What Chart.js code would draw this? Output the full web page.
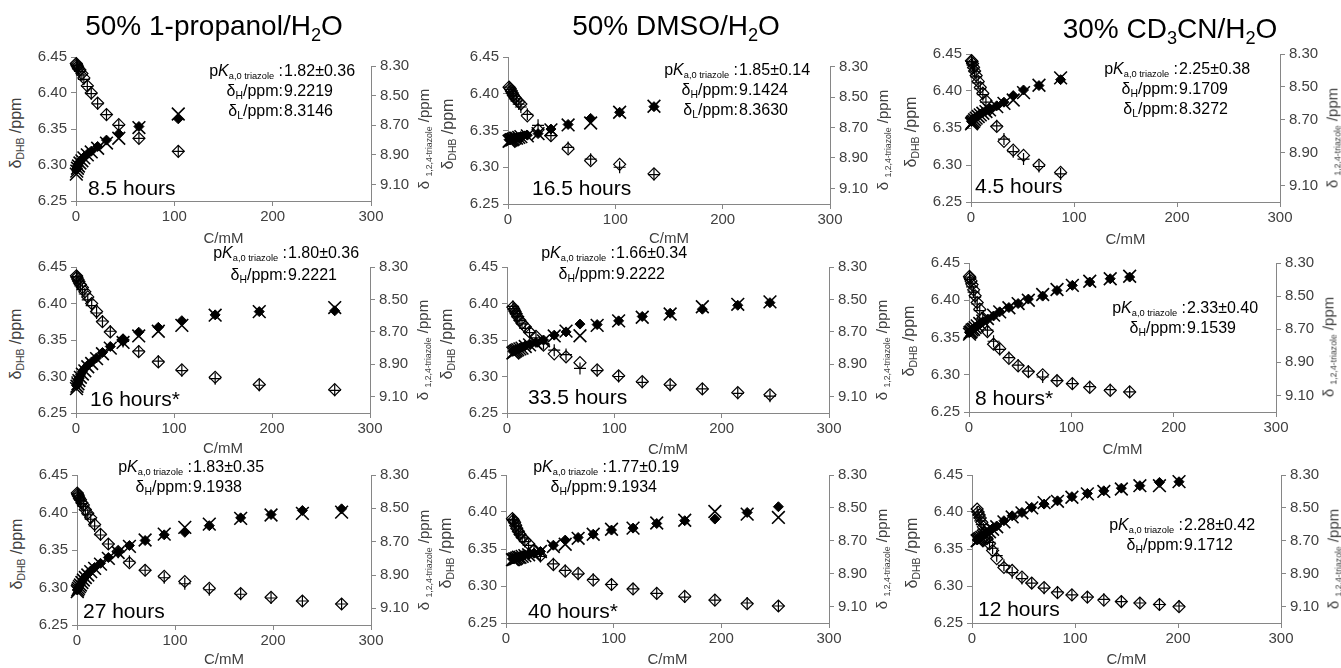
<!DOCTYPE html>
<html><head><meta charset="utf-8">
<script src="https://cdn.jsdelivr.net/npm/chart.js@4.4.0/dist/chart.umd.min.js"></script>
<style>
html,body{margin:0;padding:0;background:#fff;}
#page{position:relative;width:1341px;height:668px;overflow:hidden;font-family:'Liberation Sans',Arial,sans-serif;}
canvas{position:absolute;}
.t{position:absolute;white-space:nowrap;color:#000;line-height:1;}
.t sub{font-size:65%;vertical-align:baseline;position:relative;top:0.32em;line-height:0;}
.t sub.sm{font-size:58%;}
.ax{color:#404040;}
</style></head><body><div id="page"></div>
<script>
// ---------------- DATA ----------------
const columnTitles = ['50% 1-propanol/H<sub>2</sub>O', '50% DMSO/H<sub>2</sub>O', '30% CD<sub>3</sub>CN/H<sub>2</sub>O'];
const hoursLabels = ['8.5 hours','16.5 hours','4.5 hours','16 hours*','33.5 hours','8 hours*','27 hours','40 hours*','12 hours'];
const pKaValues = ['1.82±0.36','1.85±0.14','2.25±0.38','1.80±0.36','1.66±0.34','2.33±0.40','1.83±0.35','1.77±0.19','2.28±0.42'];
const deltaHValues = ['9.2219','9.1424','9.1709','9.2221','9.2222','9.1539','9.1938','9.1934','9.1712'];
const deltaLValues = ['8.3146','8.3630','8.3272',null,null,null,null,null,null];

const xTicks = [0,100,200,300];
const leftTicks = [6.25,6.30,6.35,6.40,6.45];
const rightTicks = [8.30,8.50,8.70,8.90,9.10];

// Panel 1: 50% 1-propanol, 8.5 h
const c1 = [0.3,0.8,1.5,2.5,4,6,8,11.5,15.5,22,31,43.5,64,104];
const dhb1 = [6.441,6.439,6.437,6.434,6.432,6.427,6.421,6.410,6.400,6.386,6.370,6.356,6.337,6.319];
const dhbFit1 = [6.440,6.438,6.436,6.433,6.430,6.425,6.419,6.409,6.399,6.385,6.370,6.355,6.337,6.319];
const tri1 = [9.00,8.99,8.975,8.96,8.945,8.93,8.915,8.895,8.875,8.843,8.80,8.757,8.708,8.656];
const triFit1 = [9.03,9.01,8.99,8.975,8.955,8.94,8.92,8.90,8.88,8.855,8.82,8.787,8.715,8.623];

// Panel 2: 50% DMSO, 16.5 h
const c2 = [1,2,3,4,5,6.5,8,10,12,18,28,40,56,77,104,136];
const dhb2 = [6.409,6.407,6.404,6.401,6.398,6.395,6.392,6.389,6.386,6.370,6.351,6.343,6.325,6.309,6.304,6.291];
const dhbFit2 = [6.409,6.406,6.403,6.400,6.397,6.393,6.390,6.386,6.382,6.372,6.357,6.343,6.327,6.311,6.300,6.290];
const tri2 = [8.78,8.78,8.775,8.775,8.77,8.77,8.765,8.765,8.76,8.75,8.74,8.71,8.68,8.64,8.60,8.563];
const triFit2 = [8.79,8.785,8.78,8.78,8.775,8.77,8.77,8.765,8.76,8.755,8.74,8.715,8.683,8.67,8.60,8.56];

// Panel 3: 30% CD3CN, 4.5 h
const c3 = [0.5,1,1.5,2.5,3.5,5,7,9,11.5,14.5,18,25,32,41,51,66,87];
const dhb3 = [6.441,6.440,6.437,6.432,6.427,6.421,6.413,6.405,6.397,6.387,6.375,6.352,6.332,6.320,6.313,6.300,6.290];
const dhbFit3 = [6.440,6.438,6.435,6.431,6.426,6.419,6.411,6.403,6.395,6.385,6.374,6.353,6.335,6.318,6.308,6.298,6.288];
const tri3 = [8.71,8.705,8.70,8.695,8.69,8.685,8.675,8.665,8.655,8.645,8.635,8.615,8.593,8.553,8.519,8.492,8.456];
const triFit3 = [8.725,8.72,8.715,8.71,8.70,8.69,8.68,8.67,8.66,8.65,8.64,8.62,8.60,8.58,8.535,8.49,8.445];

// Panel 4: 50% 1-propanol, 16 h
const c4 = [0.5,1,2,3,4.5,6.5,9,12,16,21,27,35,48,64,84,108,142,187,264];
const dhb4 = [6.438,6.436,6.433,6.430,6.426,6.422,6.416,6.409,6.400,6.389,6.375,6.361,6.350,6.334,6.320,6.309,6.299,6.289,6.282];
const dhbFit4 = [6.437,6.435,6.431,6.428,6.424,6.419,6.413,6.405,6.397,6.387,6.376,6.362,6.348,6.335,6.321,6.308,6.297,6.288,6.281];
const tri4 = [9.03,9.02,9.00,8.985,8.965,8.945,8.925,8.905,8.885,8.86,8.827,8.79,8.75,8.702,8.672,8.631,8.595,8.575,8.57];
const triFit4 = [9.05,9.035,9.02,9.00,8.98,8.96,8.94,8.915,8.895,8.865,8.835,8.80,8.765,8.725,8.696,8.66,8.597,8.575,8.55];

// Panel 5: 50% DMSO, 33.5 h
const c5 = [5.5,6.5,7.5,8.5,10,12,14,17,21,27,34,44,55,68,84,104,126,152,182,215,245];
const dhb5 = [6.395,6.392,6.389,6.386,6.382,6.377,6.373,6.368,6.361,6.355,6.343,6.331,6.327,6.319,6.309,6.301,6.293,6.289,6.283,6.278,6.275];
const dhbFit5 = [6.396,6.393,6.390,6.386,6.382,6.377,6.372,6.366,6.360,6.353,6.345,6.336,6.330,6.311,6.308,6.300,6.292,6.288,6.283,6.277,6.273];
const tri5 = [8.82,8.815,8.815,8.81,8.805,8.80,8.795,8.785,8.775,8.765,8.75,8.72,8.70,8.652,8.655,8.632,8.605,8.585,8.56,8.536,8.52];
const triFit5 = [8.83,8.825,8.82,8.815,8.81,8.805,8.80,8.79,8.78,8.77,8.755,8.725,8.695,8.724,8.66,8.632,8.61,8.59,8.545,8.53,8.515];

// Panel 6: 30% CD3CN, 8 h
const c6 = [0.5,1,2,3,4.5,6,8,10.5,13.5,18,24,30,39,48,58,72,86,101,118,138,157];
const dhb6 = [6.432,6.430,6.426,6.421,6.414,6.406,6.397,6.388,6.376,6.358,6.341,6.335,6.322,6.312,6.304,6.300,6.292,6.288,6.283,6.279,6.277];
const dhbFit6 = [6.431,6.428,6.423,6.418,6.411,6.404,6.395,6.386,6.375,6.360,6.345,6.334,6.323,6.313,6.305,6.297,6.292,6.288,6.284,6.280,6.277];
const tri6 = [8.72,8.715,8.71,8.705,8.695,8.69,8.68,8.67,8.655,8.64,8.62,8.595,8.569,8.545,8.518,8.50,8.466,8.435,8.415,8.395,8.385];
const triFit6 = [8.73,8.72,8.715,8.705,8.70,8.69,8.68,8.665,8.65,8.635,8.615,8.595,8.57,8.545,8.525,8.49,8.46,8.435,8.41,8.395,8.38];

// Panel 7: 50% 1-propanol, 27 h
const c7 = [0.3,0.8,1.5,2.5,3.5,5,6.5,8.5,11,14,18,24,32,42,53.5,69.5,89,110,135,167,198,230,270];
const dhb7 = [6.426,6.424,6.422,6.419,6.417,6.413,6.410,6.404,6.399,6.393,6.384,6.371,6.358,6.348,6.333,6.323,6.315,6.308,6.299,6.292,6.287,6.282,6.278];
const dhbFit7 = [6.425,6.423,6.421,6.418,6.416,6.412,6.408,6.403,6.397,6.391,6.382,6.370,6.358,6.347,6.335,6.323,6.313,6.305,6.297,6.291,6.286,6.282,6.278];
const tri7 = [8.99,8.985,8.975,8.965,8.955,8.94,8.925,8.91,8.895,8.875,8.855,8.83,8.795,8.759,8.723,8.693,8.659,8.644,8.604,8.557,8.537,8.513,8.503];
const triFit7 = [9.00,8.99,8.98,8.97,8.96,8.945,8.93,8.915,8.90,8.88,8.86,8.835,8.80,8.765,8.728,8.69,8.655,8.614,8.595,8.56,8.54,8.53,8.523];

// Panel 8: 50% DMSO, 40 h
const c8 = [6,7,8,9,10,11.5,13,15,17.5,21,26,32,44,55,67,81,98,118,140,166,194,224,253];
const dhb8 = [6.391,6.389,6.386,6.382,6.378,6.374,6.370,6.366,6.362,6.357,6.349,6.341,6.329,6.320,6.317,6.308,6.302,6.296,6.290,6.286,6.281,6.276,6.273];
const dhbFit8 = [6.390,6.388,6.385,6.381,6.377,6.373,6.369,6.365,6.360,6.355,6.348,6.340,6.330,6.321,6.316,6.309,6.302,6.296,6.290,6.285,6.281,6.277,6.273];
const tri8 = [8.81,8.81,8.805,8.805,8.80,8.80,8.795,8.79,8.785,8.78,8.775,8.765,8.727,8.696,8.68,8.66,8.635,8.623,8.595,8.578,8.568,8.528,8.493];
const triFit8 = [8.815,8.815,8.81,8.81,8.805,8.80,8.80,8.795,8.79,8.785,8.78,8.765,8.735,8.721,8.685,8.66,8.63,8.623,8.592,8.575,8.522,8.538,8.558];

// Panel 9: 30% CD3CN, 12 h
const c9 = [5,6,7,8,9.5,11,12.5,14.5,17,20,24,31,39,48.5,58,70,83,97,112,128,145,163,182,201];
const dhb9 = [6.404,6.400,6.396,6.392,6.386,6.380,6.372,6.364,6.357,6.348,6.337,6.325,6.321,6.312,6.304,6.298,6.291,6.288,6.285,6.281,6.279,6.277,6.275,6.272];
const dhbFit9 = [6.400,6.396,6.392,6.388,6.383,6.377,6.372,6.366,6.359,6.351,6.341,6.328,6.318,6.310,6.304,6.297,6.292,6.288,6.285,6.282,6.279,6.277,6.275,6.273];
const tri9 = [8.695,8.69,8.685,8.68,8.672,8.665,8.66,8.65,8.64,8.625,8.61,8.578,8.548,8.528,8.497,8.477,8.457,8.432,8.412,8.396,8.38,8.365,8.345,8.341];
const triFit9 = [8.70,8.695,8.69,8.685,8.68,8.672,8.665,8.655,8.645,8.63,8.615,8.585,8.555,8.53,8.50,8.468,8.46,8.435,8.415,8.40,8.385,8.365,8.365,8.34];

const seriesC = [c1,c2,c3,c4,c5,c6,c7,c8,c9];
const seriesDHB = [dhb1,dhb2,dhb3,dhb4,dhb5,dhb6,dhb7,dhb8,dhb9];
const seriesDHBFit = [dhbFit1,dhbFit2,dhbFit3,dhbFit4,dhbFit5,dhbFit6,dhbFit7,dhbFit8,dhbFit9];
const seriesTri = [tri1,tri2,tri3,tri4,tri5,tri6,tri7,tri8,tri9];
const seriesTriFit = [triFit1,triFit2,triFit3,triFit4,triFit5,triFit6,triFit7,triFit8,triFit9];
const rightRanges = [[8.2375,9.212],[8.237,9.202],[8.30,9.20],[8.30,9.20],[8.30,9.20],[8.30,9.20],[8.30,9.20],[8.30,9.20],[8.30,9.20]];

// ---------------- LAYOUT ----------------
const plots = [
  {x0:76,x1:371,y0:56,y1:201},{x0:508,x1:830,y0:56,y1:204},{x0:971,x1:1280,y0:53,y1:202},
  {x0:76,x1:370,y0:266,y1:413},{x0:507,x1:829,y0:266,y1:413},{x0:969,x1:1276,y0:262,y1:412},
  {x0:77,x1:371,y0:474,y1:625},{x0:506,x1:829,y0:474,y1:623},{x0:972,x1:1281,y0:474,y1:623}
];
const titlePos = [{x:214,y:26},{x:676,y:26},{x:1170,y:29}];
const hoursPos = [{x:88,y:187},{x:532,y:187},{x:975,y:185},{x:90,y:398},{x:528,y:396},{x:975,y:397},{x:83,y:610},{x:528,y:610},{x:978,y:608}];
const annPos = [{x:283,y:71,dy:20},{x:738,y:70,dy:20},{x:1178,y:69,dy:20},{x:287,y:253,dy:22},{x:615,y:253,dy:21},{x:1186,y:308,dy:20},{x:192,y:467,dy:20},{x:607,y:467,dy:20},{x:1183,y:525,dy:20}];
const xTitleY = [237,237,238,447,448,448,658,658,658];

const page = document.getElementById('page');
function addText(html, x, y, size, align, cls, rotate){
  const d = document.createElement('div');
  d.className = 't' + (cls ? ' ' + cls : '');
  d.innerHTML = html;
  d.style.fontSize = size + 'px';
  d.style.left = x + 'px';
  d.style.top = y + 'px';
  const tx = align === 'c' ? '-50%' : (align === 'r' ? '-100%' : '0');
  d.style.transform = 'translate(' + tx + ',-50%)' + (rotate ? ' rotate(-90deg)' : '');
  page.appendChild(d);
  return d;
}

const axisColor = '#868686';
const tickColor = '#404040';
const tickFont = {family:"'Liberation Sans', Arial, sans-serif", size:15};
const L = 50, R = 50, T = 12, B = 28;

const rightAxisLine = {
  id:'rightAxisLine',
  beforeDatasetsDraw(chart){
    const s = chart.scales.y2, ctx = chart.ctx;
    const top = Math.max(chart.chartArea.top, s.getPixelForValue(rightTicks[0]));
    ctx.save();
    ctx.strokeStyle = axisColor; ctx.lineWidth = 1;
    ctx.beginPath();
    ctx.moveTo(Math.round(chart.chartArea.right) + 0.5, top);
    ctx.lineTo(Math.round(chart.chartArea.right) + 0.5, chart.chartArea.bottom + 0.5);
    ctx.stroke();
    ctx.restore();
  }
};

function pts(xs, ys){ return xs.map((x,i)=>({x:x, y:ys[i]})); }

plots.forEach((p, i) => {
  const w = p.x1 - p.x0, h = p.y1 - p.y0;
  const cv = document.createElement('canvas');
  cv.width = w + L + R; cv.height = h + T + B;
  cv.style.left = (p.x0 - L) + 'px'; cv.style.top = (p.y0 - T) + 'px';
  page.appendChild(cv);
  const rr = rightRanges[i];
  new Chart(cv, {
    type:'scatter',
    data:{datasets:[
      {label:'DHB', data:pts(seriesC[i], seriesDHB[i]), yAxisID:'y', pointStyle:'rectRot', pointRadius:6, pointBorderWidth:1.2, borderColor:'#000', backgroundColor:'rgba(255,255,255,0)', order:3, clip:false},
      {label:'DHB fit', data:pts(seriesC[i], seriesDHBFit[i]), yAxisID:'y', pointStyle:'cross', pointRadius:6, pointBorderWidth:1.2, borderColor:'#000', backgroundColor:'#000', order:2, clip:false},
      {label:'triazole', data:pts(seriesC[i], seriesTri[i]), yAxisID:'y2', pointStyle:'rectRot', pointRadius:5, pointBorderWidth:1, borderColor:'#000', backgroundColor:'#000', order:1, clip:false},
      {label:'triazole fit', data:pts(seriesC[i], seriesTriFit[i]), yAxisID:'y2', pointStyle:'crossRot', pointRadius:9, pointBorderWidth:1.6, borderColor:'#000', backgroundColor:'#000', order:0, clip:false}
    ]},
    options:{
      responsive:false, animation:false, devicePixelRatio:1, events:[],
      layout:{padding:{top:T,left:0,right:0,bottom:0}, autoPadding:false},
      plugins:{legend:{display:false}, tooltip:{enabled:false}},
      scales:{
        x:{type:'linear', min:0, max:300,
           afterBuildTicks:s=>{s.ticks = xTicks.map(v=>({value:v}));},
           afterFit:s=>{s.height = B;},
           ticks:{font:tickFont, color:tickColor, padding:2, maxRotation:0, autoSkip:false, callback:v=>String(v)},
           grid:{drawOnChartArea:false, drawTicks:true, tickLength:5, color:axisColor},
           border:{display:true, color:axisColor}},
        y:{type:'linear', position:'left', min:6.25, max:6.45,
           afterBuildTicks:s=>{s.ticks = leftTicks.map(v=>({value:v}));},
           afterFit:s=>{s.width = L;},
           ticks:{font:tickFont, color:tickColor, padding:4, callback:v=>Number(v).toFixed(2)},
           grid:{drawOnChartArea:false, drawTicks:true, tickLength:5, color:axisColor},
           border:{display:true, color:axisColor}},
        y2:{type:'linear', position:'right', reverse:true, min:rr[0], max:rr[1],
           afterBuildTicks:s=>{s.ticks = rightTicks.map(v=>({value:v}));},
           afterFit:s=>{s.width = R;},
           ticks:{font:tickFont, color:tickColor, padding:4, callback:v=>Number(v).toFixed(2)},
           grid:{drawOnChartArea:false, drawTicks:true, tickLength:5, color:axisColor},
           border:{display:false}}
      }
    },
    plugins:[rightAxisLine]
  });

  // axis titles
  const cy = (p.y0 + p.y1) / 2 + 4;
  addText('δ<sub>DHB</sub> /ppm', p.x0 - 60, cy, 16, 'c', 'ax', true);
  addText('δ <sub class="sm">1,2,4-triazole</sub> /ppm', p.x1 + 52, cy + 6, 15, 'c', 'ax', true);
  addText('C/mM', (p.x0 + p.x1) / 2, xTitleY[i], 15, 'c', 'ax');

  // hours label
  addText(hoursLabels[i], hoursPos[i].x, hoursPos[i].y, 21, 'l');

  // annotation
  const a = annPos[i];
  addText('p<i>K</i><sub class="sm">a,0 triazole</sub> :', a.x, a.y, 16, 'r');
  addText(pKaValues[i], a.x + 1, a.y, 16, 'l');
  addText('δ<sub>H</sub>/ppm:', a.x, a.y + a.dy, 16, 'r');
  addText(deltaHValues[i], a.x + 1, a.y + a.dy, 16, 'l');
  if (deltaLValues[i]) {
    addText('δ<sub>L</sub>/ppm:', a.x, a.y + 2 * a.dy, 16, 'r');
    addText(deltaLValues[i], a.x + 1, a.y + 2 * a.dy, 16, 'l');
  }
});

columnTitles.forEach((t, k) => addText(t, titlePos[k].x, titlePos[k].y, 28, 'c'));
</script>
</body></html>
